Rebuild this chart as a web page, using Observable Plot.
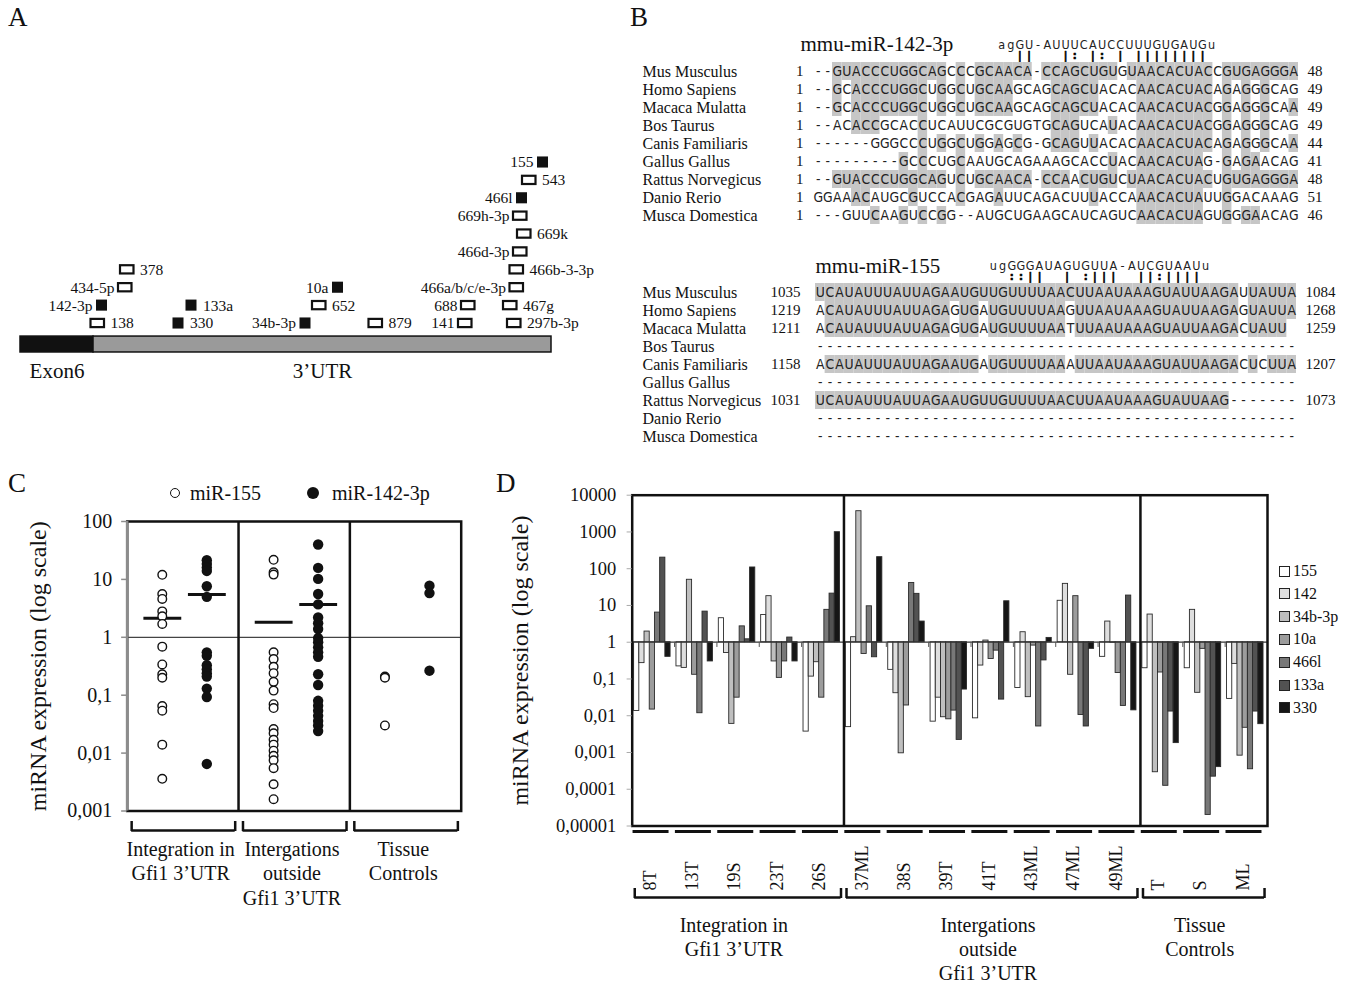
<!DOCTYPE html>
<html><head><meta charset="utf-8">
<script src="https://cdn.jsdelivr.net/npm/d3@7"></script>
<script src="https://cdn.jsdelivr.net/npm/@observablehq/plot@0.6"></script>
<style>
body{margin:0;background:#fff;}
#root{position:relative;width:1347px;height:983px;overflow:hidden;font-family:"Liberation Serif","Times New Roman",serif;color:#111;background:#fff;}
</style></head><body><div id="root"></div>
<script>
// ================= DATA =================
// Panel A: Gfi1 3'UTR schematic
const geneSegNames = ["Exon6", "3’UTR"];
const geneSegStart = [0, 73];
const geneSegEnd = [73, 531];
const siteNames = ["138","330","34b-3p","879","141","297b-3p","142-3p","133a","652","688","467g","434-5p","10a","466a/b/c/e-3p","378","466b-3-3p","466d-3p","669k","669h-3p","466l","543","155"];
const sitePos   = [70.5,152.5,279.5,348.5,438,487,76,165.5,292,441,483,98,312,489.5,100,489.5,493,497,493,496,502,517];
const siteRow   = [1,1,1,1,1,1,2,2,2,2,2,3,3,3,4,4,5,6,7,8,9,10];
const siteFilled= [0,1,1,0,0,0,1,1,0,0,0,0,1,0,0,0,0,0,0,1,0,1];
const siteSide  = ["R","R","L","R","L","R","L","R","R","L","R","L","L","L","R","R","L","R","L","L","R","L"];

// Panel B: alignments
const bSpecies = ["Mus Musculus","Homo Sapiens","Macaca Mulatta","Bos Taurus","Canis Familiaris","Gallus Gallus","Rattus Norvegicus","Danio Rerio","Musca Domestica"];
const b142Seqs = [
 "--GUACCCUGGCAGCCCGCAACA-CCAGCUGUGUAACACUACCGUGAGGGA",
 "--GCACCCUGGCUGGCUGCAAGCAGCAGCUACACAACACUACAGAGGGCAG",
 "--GCACCCUGGCUGGCUGCAAGCAGCAGCUACACAACACUACGGAGGGCAA",
 "--ACACCGCACCUCAUUCGCGUGTGCAGUCAUACAACACUACGGAGGGCAG",
 "------GGGCCCUGGCUGGAGCG-GCAGUUACACAACACUACAGAGGGCAA",
 "---------GCCCUGCAAUGCAGAAAGCACCUACAACACUAG-GAGAACAG",
 "--GUACCCUGGCAGUCUGCAACA-CCAACUGUCUAACACUACUGUGAGGGA",
 "GGAAACAUGCGUCCACGAGAUUCAGACUUUACCAAACACUAUUGGACAAAG",
 "---GUUCAAGUCCGG--AUGCUGAAGCAUCAGUCAACACUAGUGGGAACAG"];
const b142Start = ["1","1","1","1","1","1","1","1","1"];
const b142End = ["48","49","49","49","44","41","48","51","46"];
const b142Mir = "agGU-AUUUCAUCCUUUGUGAUGu";
const b142Pair = "  ||   |: |: | |||||||| ";
const b155Seqs = [
 "UCAUAUUUAUUAGAAUGUUGUUUUAACUUAAUAAAGUAUUAAGAUUAUUA",
 "ACAUAUUUAUUAGAGUGAUGUUUUAAGUUAAUAAAGUAUUAAGAGUAUUA",
 "ACAUAUUUAUUAGAGUGAUGUUUUAATUUAAUAAAGUAUUAAGACUAUU",
 "--------------------------------------------------",
 "ACAUAUUUAUUAGAAUGAUGUUUUAAAUUAAUAAAGUAUUAAGACUCUUA",
 "--------------------------------------------------",
 "UCAUAUUUAUUAGAAUGUUGUUUUAACUUAAUAAAGUAUUAAG-------",
 "--------------------------------------------------",
 "--------------------------------------------------"];
const b155Start = ["1035","1219","1211","","1158","","1031","",""];
const b155End = ["1084","1268","1259","","1207","","1073","",""];
const b155Mir = "ugGGGAUAGUGUUA-AUCGUAAUu";
const b155Pair = "  ::||  | :|||  ||:|||| ";

// Panel C: dot plot
const cGroupLabels = ["Integration in\nGfi1 3’UTR", "Intergations\noutside\nGfi1 3’UTR", "Tissue\nControls"];
const cSeries = ["miR-155", "miR-142-3p"];
const c155 = [
  [12, 5.6, 4.6, 2.8, 2.3, 1.7, 0.69, 0.34, 0.23, 0.20, 0.065, 0.054, 0.014, 0.0036],
  [21.8, 13.3, 12.1, 0.55, 0.42, 0.31, 0.24, 0.17, 0.12, 0.070, 0.060, 0.026, 0.022, 0.017, 0.014, 0.011, 0.009, 0.0075, 0.0055, 0.0029, 0.0016],
  [0.21, 0.20, 0.030]];
const c142 = [
  [21.5, 18.5, 16, 14, 7.6, 5.0, 0.55, 0.48, 0.33, 0.28, 0.24, 0.21, 0.13, 0.093, 0.0065],
  [40, 15.8, 10.2, 5.6, 3.7, 2.2, 1.75, 1.39, 0.97, 0.82, 0.67, 0.55, 0.46, 0.23, 0.15, 0.080, 0.066, 0.054, 0.044, 0.036, 0.030, 0.024],
  [7.8, 5.8, 0.265]];
const c155Median = [2.13, 1.82];
const c142Median = [5.5, 3.7];
const cTicks = [0.001, 0.01, 0.1, 1, 10, 100];
const cTickLabels = ["0,001", "0,01", "0,1", "1", "10", "100"];

// Panel D: bar chart
const dSamples = ["8T","13T","19S","23T","26S","37ML","38S","39T","41T","43ML","47ML","49ML","T","S","ML"];
const dGroupStart = [0, 5, 12];
const dGroupEnd = [5, 12, 15];
const dGroupLabels = ["Integration in\nGfi1 3’UTR", "Intergations\noutside\nGfi1 3’UTR", "Tissue\nControls"];
const dSeries = ["155","142","34b-3p","10a","466l","133a","330"];
const v155  = [0.0135, 0.22, 4.5, 5.5, 0.0037, 0.0049, 0.177, 0.0069, 0.0085, 0.057, 13.4, 0.40, 0.196, 0.196, 0.0287];
const v142  = [0.27, 0.20, 0.51, 17.9, 0.116, 1.37, 0.041, 0.031, 0.232, 1.87, 38.7, 3.65, 5.66, 7.6, 0.257];
const v34b  = [1.95, 50, 0.006, 0.30, 0.286, 3670, 0.00095, 0.0091, 1.11, 0.032, 0.13, 0.97, 0.00029, 0.042, 0.00082];
const v10a  = [0.0147, 0.13, 0.031, 0.107, 0.031, 0.48, 0.019, 0.008, 0.35, 0.81, 17.9, 0.145, 0.15, 0.66, 0.0047];
const v466l = [6.4, 0.0117, 2.7, 0.30, 7.6, 9.5, 41, 0.0138, 0.59, 0.0051, 0.0105, 0.0185, 0.000124, 0.00002, 0.00035];
const v133a = [200, 6.8, 1.2, 1.34, 21, 0.39, 20.7, 0.0022, 0.0275, 0.32, 0.0051, 18.6, 0.013, 0.00022, 0.013];
const v330  = [0.40, 0.30, 108, 0.30, 985, 206, 3.65, 0.0515, 13, 1.31, 0.66, 0.014, 0.0018, 0.0004, 0.0059];
const dTicks = [1e-5, 1e-4, 1e-3, 1e-2, 1e-1, 1, 10, 100, 1000, 10000];
const dTickLabels = ["0,00001","0,0001","0,001","0,01","0,1","1","10","100","1000","10000"];

// ================= STYLE =================
const serif = '"Liberation Serif","Times New Roman",serif';
const seqFont = '"DejaVu Sans Condensed","Liberation Sans Narrow","DejaVu Sans",sans-serif';
const dSeriesFill = ["#ffffff","#dedede","#bfbfbf","#9c9c9c","#787878","#525252","#161616"];
const ink = "#111";

const root = document.getElementById("root");
function put(node, left, top) {
  node.style.position = "absolute"; node.style.left = left + "px"; node.style.top = top + "px";
  root.appendChild(node); return node;
}
function div(text, left, top, css) {
  const d = document.createElement("div"); d.textContent = text; d.style.cssText = css || ""; return put(d, left, top);
}
const svgStyle = {fontFamily: serif, fontSize: "16px", background: "transparent", overflow: "visible", color: ink};

// Panel letters
[["A", 8, 4], ["B", 630, 4], ["C", 8, 470], ["D", 496, 470]].forEach(([t, x, y]) =>
  div(t, x, y, "font-size:27px;line-height:1;white-space:nowrap;"));

// ================= PANEL A =================
const genes = geneSegNames.map((name, i) => ({name, start: geneSegStart[i], end: geneSegEnd[i], i}));
const sites = siteNames.map((name, i) => ({name, pos: sitePos[i], row: siteRow[i], filled: !!siteFilled[i], side: siteSide[i]}));
const boxW = d => d.filled ? 11 : 13.5;
const plotA = Plot.plot({
  width: 620, height: 250, marginTop: 0, marginRight: 0, marginBottom: 0, marginLeft: 0,
  x: {domain: [0, 531], range: [20, 551], axis: null},
  y: {domain: [1, 10], range: [183, 22], axis: null},
  color: {type: "identity"},
  style: svgStyle,
  marks: [
    Plot.rect(genes, {x1: "start", x2: "end", y1: -0.62, y2: 0.27, fill: d => d.i === 0 ? "#111" : "#9a9a9a", stroke: ink, strokeWidth: 1.5}),
    Plot.text(genes, {x: d => (d.start + d.end) / 2, y: -1.68, text: "name", fontSize: 21}),
    Plot.rect(sites.filter(d => d.filled), {x1: "pos", x2: d => d.pos + boxW(d), y1: d => d.row - 0.31, y2: d => d.row + 0.31, fill: ink}),
    Plot.rect(sites.filter(d => !d.filled), {x1: "pos", x2: d => d.pos + boxW(d), y1: d => d.row - 0.23, y2: d => d.row + 0.23, fill: "white", stroke: ink, strokeWidth: 2.2}),
    Plot.text(sites.filter(d => d.side === "L"), {x: "pos", y: "row", text: "name", textAnchor: "end", dx: -4, fontSize: 15.5}),
    Plot.text(sites.filter(d => d.side === "R"), {x: d => d.pos + boxW(d), y: "row", text: "name", textAnchor: "start", dx: 6, fontSize: 15.5})
  ]
});
put(plotA, 0, 140);

// ================= PANEL B =================
function alignment(cfg) {
  const {seqs, starts, ends, title, mir, pair, mirStart, ncols} = cfg;
  const cells = [];
  bSpecies.forEach((name, r) => {
    const s = seqs[r];
    for (let c = 0; c < s.length; c++) {
      const ch = s[c];
      if (ch === " ") continue;
      let shade = false;
      if (ch !== "-") {
        if (r === 0) shade = seqs.some((o, k) => k > 0 && o[c] === ch);
        else shade = seqs[0][c] === ch;
      }
      cells.push({name, c, ch, shade});
    }
  });
  const mirChars = [...mir].map((ch, i) => ({ch, i, p: pair[i]}));
  const nums = bSpecies.map((name, r) => ({name, s: starts[r], e: ends[r]})).filter(d => d.s);
  return Plot.plot({
    width: cfg.width, height: cfg.height,
    marginLeft: cfg.ml, marginRight: cfg.mr, marginTop: cfg.mt, marginBottom: cfg.mb,
    x: {domain: [0, ncols], axis: null},
    y: {type: "band", domain: bSpecies, padding: 0, axis: null},
    style: svgStyle,
    marks: [
      Plot.barX(cells.filter(d => d.shade), {x1: d => d.c, x2: d => d.c + 1, y: "name", fill: "#c6c6c6"}),
      Plot.text(cells, {x: d => d.c + 0.5, y: "name", text: "ch", fontFamily: seqFont, fontSize: 13.8, fill: "#222"}),
      Plot.text(bSpecies, {y: d => d, frameAnchor: "left", dx: cfg.nameDx, textAnchor: "start", fontSize: 16}),
      Plot.text(nums, {y: "name", text: "s", frameAnchor: "left", dx: cfg.startDx, textAnchor: "end", fontSize: 15}),
      Plot.text(nums, {y: "name", text: "e", frameAnchor: "right", dx: 9, textAnchor: "start", fontSize: 15}),
      Plot.text([title], {frameAnchor: "top-left", dx: cfg.titleDx, dy: cfg.titleDy, textAnchor: "start", lineAnchor: "middle", fontSize: 21}),
      Plot.text(mirChars, {x: d => mirStart + (d.i + 0.5) * 0.96, frameAnchor: "top", dy: cfg.mirDy, lineAnchor: "middle", text: "ch", fontFamily: seqFont, fontSize: 12.5, fill: "#222"}),
      Plot.text(mirChars.filter(d => d.p !== " "), {x: d => mirStart + (d.i + 0.5) * 0.96, frameAnchor: "top", dy: cfg.pairDy, lineAnchor: "middle", text: "p", fontFamily: seqFont, fontSize: 11, fontWeight: "bold", fill: "#000", stroke: "#000", strokeWidth: 0.6})
    ]
  });
}
put(alignment({seqs: b142Seqs, starts: b142Start, ends: b142End, title: "mmu-miR-142-3p", mir: b142Mir, pair: b142Pair,
  mirStart: 19.3, ncols: 51, width: 717, height: 232, ml: 183, mr: 49, mt: 62, mb: 8,
  nameDx: -171, startDx: -10, titleDx: -13, titleDy: -18, mirDy: -18, pairDy: -7}), 630, 0);
put(alignment({seqs: b155Seqs, starts: b155Start, ends: b155End, title: "mmu-miR-155", mir: b155Mir, pair: b155Pair,
  mirStart: 18.0, ncols: 50, width: 717, height: 215, ml: 185, mr: 51, mt: 43, mb: 10,
  nameDx: -173, startDx: -15, titleDx: 0, titleDy: -17, mirDy: -18, pairDy: -7}), 630, 240);

// ================= PANEL C =================
const cPts155 = c155.flatMap((vals, g) => vals.map(v => ({g, v})));
const cPts142 = c142.flatMap((vals, g) => vals.map(v => ({g, v})));
const cMed155 = c155Median.map((v, g) => ({g, v}));
const cMed142 = c142Median.map((v, g) => ({g, v}));
const cML = 126.7, cMR = 19.3;
const plotC = Plot.plot({
  width: 480, height: 350, marginLeft: cML, marginRight: cMR, marginTop: 51, marginBottom: 9.5,
  x: {domain: [0, 3], axis: null},
  y: {type: "log", domain: [0.001, 100], axis: null},
  style: svgStyle,
  marks: [
    Plot.ruleY([1], {stroke: "#444", strokeWidth: 1.3}),
    Plot.ruleX([1, 2], {stroke: ink, strokeWidth: 2.5}),
    Plot.frame({stroke: ink, strokeWidth: 2.5}),
    Plot.ruleX([0], {stroke: "#8c8c8c", strokeWidth: 2.5}),
    Plot.ruleY(cTicks, {x1: -0.05, x2: 0, stroke: "#8c8c8c", strokeWidth: 1.5}),
    Plot.text(cTicks, {y: d => d, text: (d, i) => cTickLabels[i], frameAnchor: "left", dx: -15, textAnchor: "end", fontSize: 20}),
    Plot.ruleY(cMed155, {y: "v", x1: d => d.g + 0.15, x2: d => d.g + 0.49, stroke: ink, strokeWidth: 3}),
    Plot.ruleY(cMed142, {y: "v", x1: d => d.g + 0.55, x2: d => d.g + 0.89, stroke: ink, strokeWidth: 3}),
    Plot.dot(cPts155, {x: d => d.g + 0.315, y: "v", r: 4.3, fill: "white", stroke: ink, strokeWidth: 1.4}),
    Plot.dot(cPts142, {x: d => d.g + 0.715, y: "v", r: 5.2, fill: ink}),
    Plot.text(["miRNA expression (log scale)"], {frameAnchor: "left", dx: -(cML - 38), rotate: -90, textAnchor: "middle", fontSize: 24})
  ]
});
put(plotC, 0, 470);

const cBrEnds = cGroupLabels.flatMap((_, g) => [g + 0.04, g + 0.97]);
const stripC = Plot.plot({
  width: 480, height: 100, marginLeft: cML, marginRight: cMR, marginTop: 0, marginBottom: 0,
  x: {domain: [0, 3], axis: null},
  y: {domain: [0, 100], range: [0, 100], axis: null},
  style: svgStyle,
  marks: [
    Plot.ruleY(cGroupLabels, {y: 18, x1: (d, g) => g + 0.04, x2: (d, g) => g + 0.97, stroke: ink, strokeWidth: 2.5}),
    Plot.ruleX(cBrEnds, {x: d => d, y1: 9, y2: 19, stroke: ink, strokeWidth: 2.5}),
    Plot.text(cGroupLabels, {x: (d, g) => g + 0.48, y: 26, lineAnchor: "top", lineHeight: 1.22, fontSize: 20})
  ]
});
put(stripC, 0, 812);

// legend C
const cLegX = [[170, 190], [307, 332]];
cSeries.forEach((name, i) => {
  const size = i === 0 ? 10 : 12;
  const dot = document.createElement("div");
  dot.style.cssText = `width:${size}px;height:${size}px;border-radius:50%;box-sizing:border-box;` +
    (i === 0 ? `border:1.4px solid ${ink};background:#fff;` : `background:${ink};`);
  put(dot, cLegX[i][0], 493 - size / 2);
  div(name, cLegX[i][1], 483, "font-size:20px;line-height:20px;white-space:nowrap;");
});

// ================= PANEL D =================
const dValues = [v155, v142, v34b, v10a, v466l, v133a, v330];
const dBars = dSeries.flatMap((s, k) => dValues[k].map((v, si) => ({s, k, si, v})));
const dML = 131.7, dMR = 80;
const bw = 0.123, b0 = 0.045;
const dBoundaries = dSamples.slice(1).map((_, i) => i + 1);
const plotD = Plot.plot({
  width: 847, height: 360, marginLeft: dML, marginRight: dMR, marginTop: 24.7, marginBottom: 4.5,
  x: {domain: [0, dSamples.length], axis: null},
  y: {type: "log", domain: [1e-5, 1e4], axis: null},
  color: {type: "identity"},
  style: svgStyle,
  marks: [
    Plot.rect(dBars, {x1: d => d.si + b0 + d.k * bw, x2: d => d.si + b0 + (d.k + 1) * bw, y1: 1, y2: "v",
      fill: d => dSeriesFill[d.k], stroke: "#2a2a2a", strokeWidth: 0.9}),
    Plot.ruleY([1], {stroke: "#333", strokeWidth: 1.3}),
    Plot.ruleX(dBoundaries, {x: d => d, y1: 1, y2: 0.72, stroke: "#555", strokeWidth: 1}),
    Plot.ruleX(dGroupEnd.slice(0, 2), {stroke: ink, strokeWidth: 2.5}),
    Plot.frame({stroke: ink, strokeWidth: 2.5}),
    Plot.ruleY(dTicks, {x1: -0.12, x2: 0, stroke: "#aaa", strokeWidth: 1}),
    Plot.text(dTicks, {y: d => d, text: (d, i) => dTickLabels[i], frameAnchor: "left", dx: -16, textAnchor: "end", fontSize: 18.5}),
    Plot.text(["miRNA expression (log scale)"], {frameAnchor: "left", dx: -(dML - 20), rotate: -90, textAnchor: "middle", fontSize: 24})
  ]
});
put(plotD, 500, 470);

const dBrEnds = dGroupStart.flatMap((s, g) => [s + 0.06, dGroupEnd[g] - 0.07]);
const stripD = Plot.plot({
  width: 847, height: 157, marginLeft: dML, marginRight: dMR, marginTop: 0, marginBottom: 0,
  x: {domain: [0, dSamples.length], axis: null},
  y: {domain: [0, 157], range: [0, 157], axis: null},
  style: svgStyle,
  marks: [
    Plot.ruleY(dSamples, {y: 5, x1: (d, i) => i + 0.02, x2: (d, i) => i + 0.87, stroke: ink, strokeWidth: 3}),
    Plot.text(dSamples, {x: (d, i) => i + 0.42, y: 64, rotate: -90, textAnchor: "start", fontSize: 18}),
    Plot.ruleY(dGroupLabels, {y: 71, x1: (d, g) => dGroupStart[g] + 0.06, x2: (d, g) => dGroupEnd[g] - 0.07, stroke: ink, strokeWidth: 2.5}),
    Plot.ruleX(dBrEnds, {x: d => d, y1: 62, y2: 72, stroke: ink, strokeWidth: 2.5}),
    Plot.text(dGroupLabels, {x: (d, g) => (dGroupStart[g] + dGroupEnd[g]) / 2 - 0.1, y: 88, lineAnchor: "top", lineHeight: 1.2, fontSize: 20})
  ]
});
put(stripD, 500, 826);

// legend D
dSeries.forEach((name, k) => {
  const yc = 571 + k * 22.8;
  const sw = document.createElement("div");
  sw.style.cssText = `width:11px;height:11px;box-sizing:border-box;border:1.2px solid #222;background:${dSeriesFill[k]};`;
  put(sw, 1279, yc - 5.5);
  div(name, 1293, yc - 10, "font-size:16px;line-height:20px;white-space:nowrap;");
});
</script></body></html>
